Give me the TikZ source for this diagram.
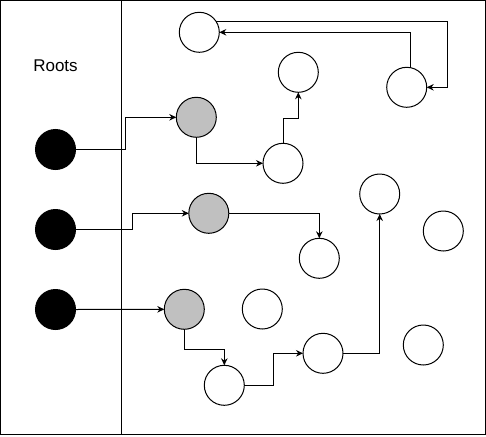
\documentclass[tikz,border=0pt]{standalone}
\usepackage{fontspec}
\setmainfont{Liberation Sans}
\usetikzlibrary{arrows.meta}
\definecolor{grayfill}{RGB}{192,192,192}
\tikzset{
  x=1pt, y=-1pt,
  every node/.style={inner sep=0pt, outer sep=0pt},
  dot/.style={circle, draw=black, line width=1pt, minimum size=40pt},
  rootdot/.style={dot, fill=black},
  graydot/.style={dot, fill=grayfill},
  whitedot/.style={dot, fill=white},
  arr/.style={draw=black, line width=1pt, -{Stealth[length=7pt,width=6.5pt]}},
}
\begin{document}
\begin{tikzpicture}
\useasboundingbox (0,0) rectangle (486,436);
\draw[line width=1pt] (0.5,0.5) rectangle (485.5,434.5);
\coordinate (dtop) at (121.3,0.5);
\coordinate (dbot) at (121.3,434.5);
\draw[line width=1pt] (dtop) -- (dbot);
\node[font=\fontsize{17}{20}\selectfont] (roots) at (55.5,65.5) {Roots};
% roots
\node[rootdot] (b1) at (55.5,149.5) {};
\node[rootdot] (b2) at (55.5,229.5) {};
\node[rootdot] (b3) at (55.5,309.5) {};
% gray
\node[graydot] (g1) at (196.3,117.3) {};
\node[graydot] (g2) at (208.8,213.3) {};
\node[graydot] (g3) at (184.3,309.3) {};
% white
\node[whitedot] (A) at (199.3,32.3) {};
\node[whitedot] (B) at (406.7,87.3) {};
\node[whitedot] (C) at (298.3,72.3) {};
\node[whitedot] (D) at (283,163.3) {};
\node[whitedot] (E) at (319.3,258.3) {};
\node[whitedot] (F) at (224.3,385.3) {};
\node[whitedot] (G) at (323,353.3) {};
\node[whitedot] (H) at (379.7,194) {};
\node[whitedot] (I) at (262.3,309) {};
\node[whitedot] (J) at (443.3,231) {};
\node[whitedot] (K) at (423.3,345) {};
% connectors
\draw[arr] (b1.east) -- (125.7,149.5) |- (g1.west);
\draw[arr] (g1.south) |- (D.west);
\draw[arr] (D.north) -- (283,118.3) -| (C.south);
\draw[arr] (A.34) -| (447.3,87.3) -- (B.east);
\draw[arr] (B.78) |- (A.east);
\draw[arr] (b2.east) -- (132,229.5) |- (g2.west);
\draw[arr] (g2.east) -| (E.north);
\draw[arr] (b3.east) -- (g3.west);
\draw[arr] (g3.south) -- (184.3,349.3) -| (F.north);
\draw[arr] (F.east) -- (273.7,385.3) |- (G.west);
\draw[arr] (G.east) -| (H.south);
\end{tikzpicture}
\end{document}
